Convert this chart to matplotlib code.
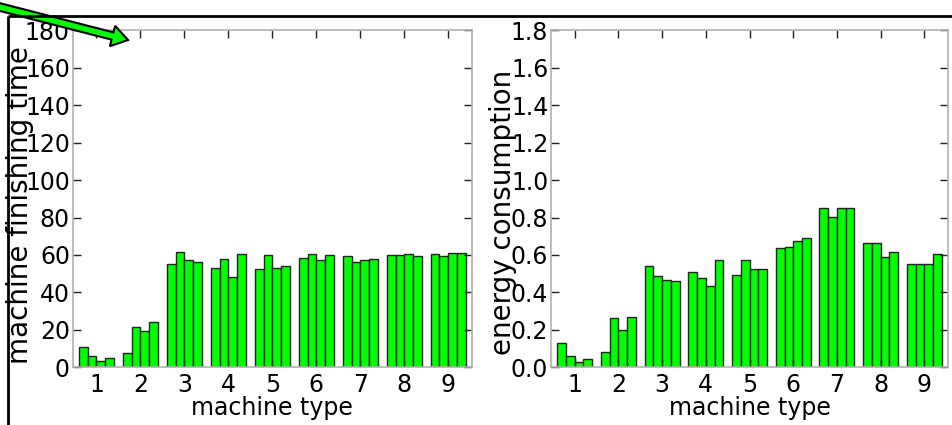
import numpy as np
import matplotlib
matplotlib.use("Agg")
import matplotlib.pyplot as plt
from matplotlib.patches import FancyArrow
from matplotlib.ticker import FormatStrFormatter

# four bars per machine type
machine_types = [1, 2, 3, 4, 5, 6, 7, 8, 9]
finish_time = [
    [10.7, 6.2, 3.4, 5.3],
    [7.6, 21.5, 19.6, 24.4],
    [55.1, 61.7, 57.2, 56.2],
    [52.8, 58.0, 48.2, 60.3],
    [52.4, 60.1, 53.0, 53.9],
    [58.5, 60.3, 57.1, 60.1],
    [59.7, 56.2, 57.2, 57.8],
    [60.1, 60.1, 60.4, 59.4],
    [60.3, 59.6, 61.2, 61.2],
]
energy = [
    [0.132, 0.063, 0.030, 0.046],
    [0.081, 0.263, 0.201, 0.271],
    [0.539, 0.490, 0.469, 0.460],
    [0.509, 0.478, 0.432, 0.574],
    [0.495, 0.573, 0.525, 0.525],
    [0.638, 0.645, 0.673, 0.693],
    [0.851, 0.804, 0.851, 0.851],
    [0.663, 0.663, 0.587, 0.615],
    [0.552, 0.552, 0.552, 0.606],
]
finish_ticks = list(range(0, 181, 20))
energy_ticks = [0.0, 0.2, 0.4, 0.6, 0.8, 1.0, 1.2, 1.4, 1.6, 1.8]

BAR_W = 0.2
plt.rcParams["font.family"] = "DejaVu Sans"


def draw_panel(ax, values, yticks, ylabel, label_xy, fmt=None):
    x = np.array(machine_types, dtype=float)
    vals = np.array(values)
    for j in range(vals.shape[1]):
        ax.bar(x - 0.4 + j * BAR_W, vals[:, j], width=BAR_W, align="edge",
               color="#00ff00", edgecolor="#222222", linewidth=1.0)
    ax.set_xlim(0.46, 9.54)
    ax.set_ylim(yticks[0], yticks[-1])
    ax.set_xticks(machine_types)
    ax.set_yticks(yticks)
    if fmt:
        ax.yaxis.set_major_formatter(FormatStrFormatter(fmt))
    ax.tick_params(direction="in", top=True, right=True, length=6, width=1,
                   color="#222222", labelsize=17)
    ax.tick_params(axis="x", pad=4)
    ax.tick_params(axis="y", pad=2)
    for sp in ax.spines.values():
        sp.set_color("#b0b0b0")
        sp.set_linewidth(1.2)
    ax.set_xlabel("machine type", size=17)
    ax.xaxis.set_label_coords(0.5, -0.084)
    ax.set_ylabel(ylabel, size=20)
    ax.yaxis.set_label_coords(*label_xy)


fig = plt.figure(figsize=(9.53, 4.25), dpi=100)
ax1 = fig.add_axes([0.0763, 0.1353, 0.4190, 0.7941])
ax2 = fig.add_axes([0.5782, 0.1353, 0.4166, 0.7941])
draw_panel(ax1, finish_time, finish_ticks, "machine finishing time", (-0.097, 0.48))
draw_panel(ax2, energy, energy_ticks, "energy consumption", (-0.085, 0.46), fmt="%.1f")

# overlay in pixel units for the frame lines and the arrow
ov = fig.add_axes([0, 0, 1, 1], zorder=10)
ov.set_xlim(0, 953)
ov.set_ylim(425, 0)
ov.axis("off")
ov.plot([8, 953], [16, 16], color="black", linewidth=2.0, solid_capstyle="butt")
ov.plot([8, 8], [16, 425], color="black", linewidth=2.0, solid_capstyle="butt")
ov.add_patch(FancyArrow(-12, 4, 140, 36, width=7.5, head_width=21, head_length=16,
                        length_includes_head=True, facecolor="#00ff00",
                        edgecolor="black", linewidth=1.5, clip_on=False))

fig.savefig("out.png", dpi=100)
